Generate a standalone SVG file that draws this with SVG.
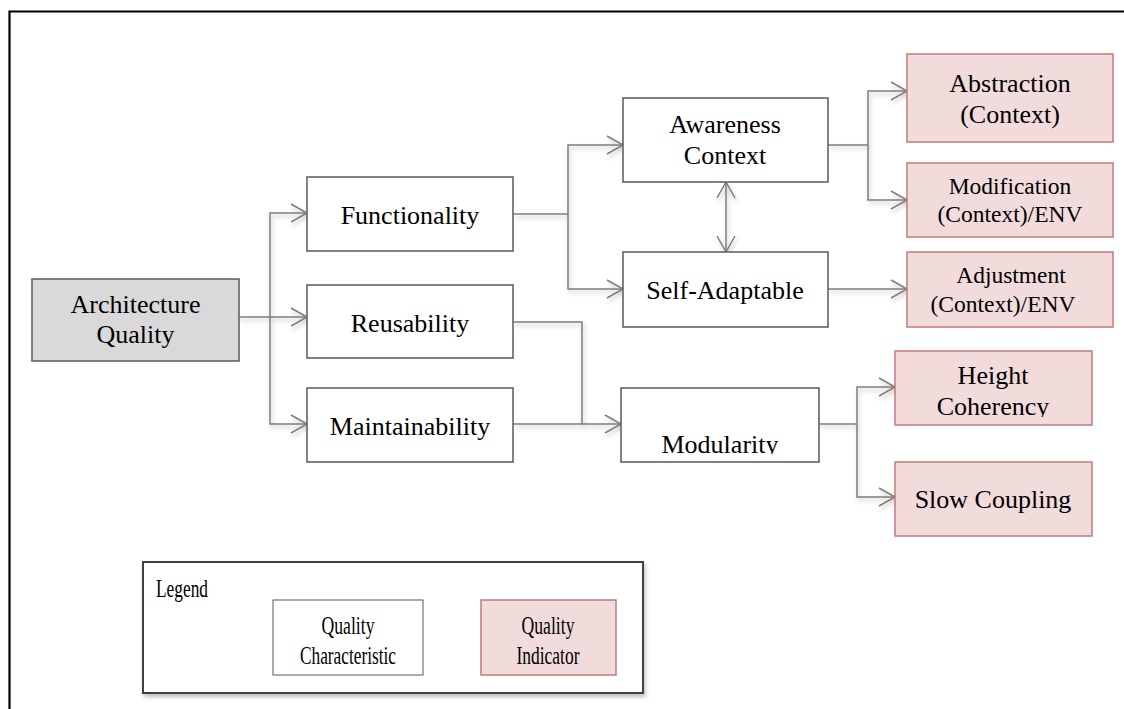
<svg xmlns="http://www.w3.org/2000/svg" width="1124" height="709" viewBox="0 0 1124 709">
<style>
.t{font-family:'Liberation Serif','Times New Roman','DejaVu Serif',serif;font-size:26px;fill:#000;text-anchor:middle}
.s{font-size:23.5px}
.qc{fill:#fff;stroke:#595959;stroke-width:1.5}
.qi{fill:#f2dcdb;stroke:#c27b7a;stroke-width:1.5}
.c{fill:none;stroke:#7f7f78;stroke-width:1.5}
</style>
<defs>
<marker id="ah" markerUnits="userSpaceOnUse" markerWidth="20" markerHeight="22" refX="16" refY="9" orient="auto-start-reverse" viewBox="-2 -2 20 22">
<path d="M0,0 L16,9 L0,18" fill="none" stroke="#7f7f78" stroke-width="1.5"/>
</marker>
<filter id="sh" x="-10%" y="-10%" width="130%" height="140%">
<feDropShadow dx="1.5" dy="3" stdDeviation="2" flood-color="#000" flood-opacity="0.25"/>
</filter>
<clipPath id="cm"><rect x="621" y="388" width="198" height="66"/></clipPath>
<clipPath id="ch"><rect x="895" y="351" width="197" height="66"/></clipPath>
<clipPath id="cc"><rect x="273" y="600" width="150" height="65"/></clipPath>
</defs>
<rect width="1124" height="709" fill="#fff"/>
<path d="M9.5 709 V11.5 H1124" fill="none" stroke="#000" stroke-width="2.2"/>

<g id="connectors" filter="url(#sh)">
<path class="c" d="M239 317 H307" marker-end="url(#ah)"/>
<path class="c" d="M270 317 V213 H307" marker-end="url(#ah)"/>
<path class="c" d="M270 317 V424 H307" marker-end="url(#ah)"/>
<path class="c" d="M513 214 H568"/>
<path class="c" d="M568 214 V145 H623" marker-end="url(#ah)"/>
<path class="c" d="M568 214 V289 H623" marker-end="url(#ah)"/>
<path class="c" d="M726 182 V252" marker-start="url(#ah)" marker-end="url(#ah)"/>
<path class="c" d="M828 145 H868"/>
<path class="c" d="M868 145 V91 H907" marker-end="url(#ah)"/>
<path class="c" d="M868 145 V200 H907" marker-end="url(#ah)"/>
<path class="c" d="M828 289 H907" marker-end="url(#ah)"/>
<path class="c" d="M513 322 H582 V424"/>
<path class="c" d="M513 424 H621" marker-end="url(#ah)"/>
<path class="c" d="M819 424 H857"/>
<path class="c" d="M857 424 V387 H895" marker-end="url(#ah)"/>
<path class="c" d="M857 424 V497 H895" marker-end="url(#ah)"/>
</g>

<g id="architecture-quality">
<rect x="32" y="279" width="207" height="82" fill="#d9d9d9" stroke="#595959" stroke-width="1.5"/>
<text class="t" x="135.5" y="313">Architecture</text>
<text class="t" x="135.5" y="343">Quality</text>
</g>
<g id="functionality">
<rect class="qc" x="307" y="177" width="206" height="74"/>
<text class="t" x="410" y="224">Functionality</text>
</g>
<g id="reusability">
<rect class="qc" x="307" y="285" width="206" height="73"/>
<text class="t" x="410" y="332">Reusability</text>
</g>
<g id="maintainability">
<rect class="qc" x="307" y="388" width="206" height="74"/>
<text class="t" x="410" y="435">Maintainability</text>
</g>
<g id="awareness-context">
<rect class="qc" x="623" y="98" width="205" height="84"/>
<text class="t" x="725" y="133">Awareness</text>
<text class="t" x="725" y="164">Context</text>
</g>
<g id="self-adaptable">
<rect class="qc" x="623" y="252" width="205" height="75"/>
<text class="t" x="725" y="299">Self-Adaptable</text>
</g>
<g id="modularity">
<rect class="qc" x="621" y="388" width="198" height="74"/>
<text class="t" x="720" y="453" clip-path="url(#cm)">Modularity</text>
</g>
<g id="abstraction">
<rect class="qi" x="907" y="54" width="206" height="88"/>
<text class="t" x="1010" y="92">Abstraction</text>
<text class="t" x="1010" y="123">(Context)</text>
</g>
<g id="modification">
<rect class="qi" x="907" y="163" width="206" height="74"/>
<text class="t s" x="1010" y="194">Modification</text>
<text class="t s" x="1010" y="222">(Context)/ENV</text>
</g>
<g id="adjustment">
<rect class="qi" x="907" y="252" width="206" height="75"/>
<text class="t s" x="1011" y="283">Adjustment</text>
<text class="t s" x="1003" y="312">(Context)/ENV</text>
</g>
<g id="height-coherency">
<rect class="qi" x="895" y="351" width="197" height="74"/>
<text class="t" x="993" y="384">Height</text>
<text class="t" x="993" y="415" clip-path="url(#ch)">Coherency</text>
</g>
<g id="slow-coupling">
<rect class="qi" x="895" y="462" width="197" height="74"/>
<text class="t" x="993" y="508">Slow Coupling</text>
</g>

<g id="legend">
<rect x="143" y="562" width="500" height="131" fill="#fff" stroke="#404040" stroke-width="2" filter="url(#sh)"/>
<text class="t" x="156" y="597" style="text-anchor:start" textLength="52" lengthAdjust="spacingAndGlyphs">Legend</text>
<rect x="273" y="600" width="150" height="75" fill="#fff" stroke="#595959" stroke-width="1"/>
<text class="t" x="348" y="634" textLength="53" lengthAdjust="spacingAndGlyphs">Quality</text>
<text class="t" x="348" y="664" textLength="96" lengthAdjust="spacingAndGlyphs" clip-path="url(#cc)">Characteristic</text>
<rect class="qi" x="481" y="600" width="135" height="75" stroke-width="1"/>
<text class="t" x="548" y="634" textLength="53" lengthAdjust="spacingAndGlyphs">Quality</text>
<text class="t" x="548" y="664" textLength="63" lengthAdjust="spacingAndGlyphs">Indicator</text>
</g>
</svg>
